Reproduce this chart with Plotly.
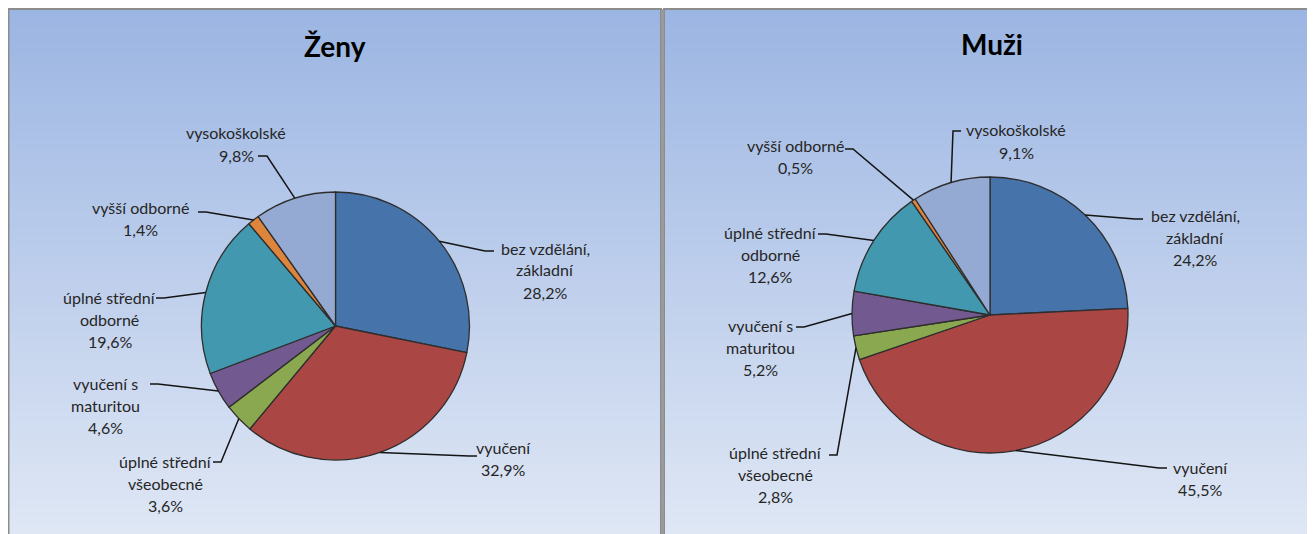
import math
import plotly.graph_objects as go

# the page adds an 8px body margin, so the figure is drawn 8px in from the corner
OFF = 8
W, H = 1315 - OFF, 534 - OFF

# data
categories = ["bez vzdělání, základní", "vyučení", "úplné střední všeobecné",
              "vyučení s maturitou", "úplné střední odborné", "vyšší odborné", "vysokoškolské"]
label_lines = [["bez vzdělání,", "základní"], ["vyučení"], ["úplné střední", "všeobecné"],
               ["vyučení s", "maturitou"], ["úplné střední", "odborné"], ["vyšší odborné"],
               ["vysokoškolské"]]
zeny = [28.2, 32.9, 3.6, 4.6, 19.6, 1.4, 9.8]
muzi = [24.2, 45.5, 2.8, 5.2, 12.6, 0.5, 9.1]
titles = ["Ženy", "Muži"]

colors = ["#4673aa", "#aa4644", "#8aa84f", "#72598f", "#4299af", "#dd843d", "#95aad2"]

# layout of each panel (screen px): pie centre / radius, then label placement
# (text centre x, first line y, line end x, line end y, elbow offset)
panels = [
    dict(cx=335.5, cy=326, r=134, title=(335, 46),
         labels=[(545, 248, 494, 251, -9), (503, 447, 477, 456, -8),
                 (165, 461, 213, 462, 8), (105, 383, 150, 384, 8),
                 (110, 297, 156, 298, 8), (140, 208, 198, 212, 8),
                 (236, 133, 258, 156, 9)]),
    dict(cx=990, cy=315, r=138, title=(992, 44),
         labels=[(1195, 215, 1143, 219, -8), (1200, 467, 1167, 468, -8),
                 (775, 452, 829, 455, 8), (760, 325, 796, 327, 8),
                 (770, 232, 818, 234, 8), (795, 145, 845, 149, 8),
                 (1016, 130, 961, 131, -8)]),
]
LINE_H = 22


def px(x):
    return (x - OFF) / W


def py(y):
    return 1 - (y - OFF) / H


fig = go.Figure()
shapes = []
annotations = []

# gradient background panels
top_c = (156, 182, 227)
bot_c = (223, 231, 245)
n = 60
for x0, x1 in [(8.5, 661), (664, 1330)]:
    for i in range(n):
        t = i / (n - 1)
        c = tuple(int(top_c[k] + (bot_c[k] - top_c[k]) * t) for k in range(3))
        y0 = 9 + (534 - 9) * i / n
        y1 = 9 + (534 - 9) * (i + 1) / n + 1
        shapes.append(dict(type="rect", xref="paper", yref="paper", layer="below",
                           x0=px(x0), x1=px(x1), y0=py(y0), y1=py(y1),
                           fillcolor="rgb(%d,%d,%d)" % c, line=dict(width=0)))
    shapes.append(dict(type="rect", xref="paper", yref="paper", layer="below",
                       x0=px(x0), x1=px(x1), y0=py(9), y1=py(545),
                       fillcolor="rgba(0,0,0,0)", line=dict(color="#8c8c8c", width=2)))
# divider between the two panels
shapes.append(dict(type="rect", xref="paper", yref="paper", layer="below",
                   x0=px(661), x1=px(664), y0=py(9), y1=py(545),
                   fillcolor="#9a9a9a", line=dict(width=0)))

for values, p, title in zip([zeny, muzi], panels, titles):
    cx, cy, r = p["cx"], p["cy"], p["r"]
    fig.add_trace(go.Pie(
        labels=categories, values=values, sort=False, direction="clockwise",
        rotation=0, textinfo="none", hoverinfo="label+percent",
        marker=dict(colors=colors, line=dict(color="#2e2e2e", width=1.3)),
        domain=dict(x=[px(cx - r), px(cx + r)], y=[py(cy + r), py(cy - r)]),
        showlegend=False,
    ))
    annotations.append(dict(x=px(p["title"][0]), y=py(p["title"][1]), xref="paper", yref="paper",
                            text="<b>%s</b>" % title, showarrow=False,
                            xanchor="center", yanchor="middle",
                            font=dict(family="Lato", size=28, color="#000000")))

    total = sum(values)
    cum = 0
    for i, v in enumerate(values):
        mid = (cum + v / 2) / total * 2 * math.pi
        cum += v
        sx = cx + r * math.sin(mid)
        sy = cy - r * math.cos(mid)
        tx, ty, ex, ey, dx = p["labels"][i]
        path = "M %f,%f L %f,%f L %f,%f" % (px(sx), py(sy), px(ex + dx), py(ey), px(ex), py(ey))
        shapes.append(dict(type="path", xref="paper", yref="paper", path=path,
                           line=dict(color="#141414", width=1.5)))
        lines = label_lines[i] + [("%.1f%%" % v).replace(".", ",")]
        for j, s in enumerate(lines):
            annotations.append(dict(x=px(tx), y=py(ty + j * LINE_H), xref="paper", yref="paper",
                                    text=s, showarrow=False, xanchor="center", yanchor="middle",
                                    font=dict(family="Lato", size=16, color="#262626")))

fig.update_layout(
    width=W, height=H, margin=dict(l=0, r=0, t=0, b=0),
    paper_bgcolor="white", plot_bgcolor="white",
    shapes=shapes, annotations=annotations,
)

fig.write_html("out.html")
